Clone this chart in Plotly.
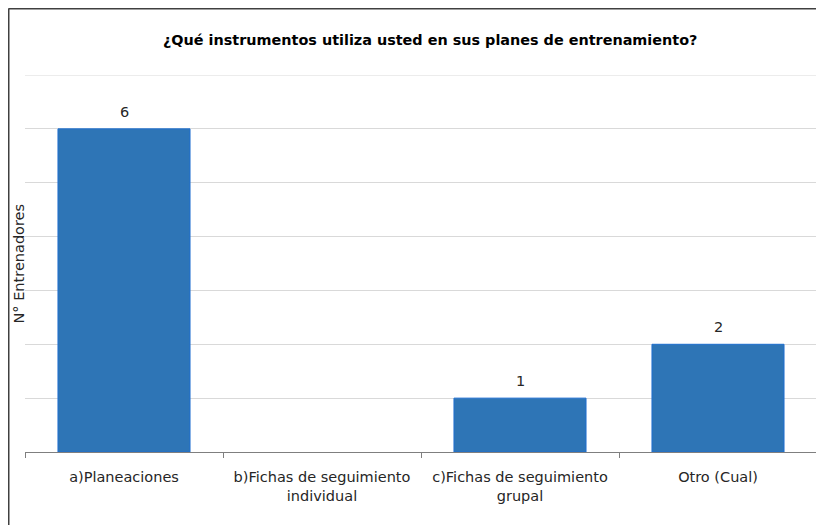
import plotly.graph_objects as go

categories = ["a)Planeaciones", "b)Fichas de seguimiento<br>individual",
              "c)Fichas de seguimiento<br>grupal", "Otro (Cual)"]
values = [6, 0, 1, 2]
y_max = 7
title_text = "¿Qué instrumentos utiliza usted en sus planes de entrenamiento?"
y_title = "N° Entrenadores"

FONT = "DejaVu Sans"
TXT = "#262626"
FS = 14.5
GRID = "#d9d9d9"

# page body margin of 8px offsets the figure; plot area in page: x 25..817, y 75..452
PW, PH = 792, 377
def px(xp):
    return (xp - 25) / PW
def py(yp):
    return (452 - yp) / PH

fig = go.Figure(go.Bar(
    x=categories, y=values,
    marker=dict(color="#2E75B6",
                line=dict(color="#1F6FD0", width=[1 if v else 0 for v in values])),
    cliponaxis=False,
))

annotations = [
    dict(text="<b>" + title_text + "</b>", xref="paper", yref="paper",
         x=px(430), y=py(40), xanchor="center", yanchor="middle",
         showarrow=False, font=dict(family=FONT, size=14.4, color="black")),
    dict(text=y_title, xref="paper", yref="paper",
         x=px(18), y=0.5, xanchor="center", yanchor="middle",
         textangle=-90, showarrow=False, font=dict(family=FONT, size=FS, color=TXT)),
]
for c, v in zip(categories, values):
    if v:
        annotations.append(dict(text=str(v), x=c, y=v, xref="x", yref="y",
                                yanchor="bottom", yshift=7, showarrow=False,
                                font=dict(family=FONT, size=FS, color=TXT)))

fig.update_layout(
    width=816, height=517,
    margin=dict(l=17, r=7, t=67, b=73),
    paper_bgcolor="white", plot_bgcolor="white",
    bargap=0.333,
    showlegend=False,
    font=dict(family=FONT, size=FS, color=TXT),
    annotations=annotations,
    shapes=[
        dict(type="line", xref="paper", yref="y", layer="below",
             x0=0, x1=1, y0=y_max, y1=y_max,
             line=dict(color=GRID, width=1)),
        dict(type="line", xref="paper", yref="paper",
             x0=px(8.5), x1=px(830),
             y0=py(8.75), y1=py(8.75),
             line=dict(color="#404040", width=1.5)),
        dict(type="line", xref="paper", yref="paper",
             x0=px(8.75), x1=px(8.75),
             y0=py(8.5), y1=py(530),
             line=dict(color="#404040", width=1.5)),
    ],
)

fig.update_xaxes(
    showline=True, linecolor="#7f7f7f", linewidth=1,
    ticks="outside", tickson="boundaries", ticklen=5, tickcolor="#7f7f7f",
    showgrid=False, tickfont=dict(family=FONT, size=FS, color=TXT),
    ticklabelstandoff=12,
)
fig.update_yaxes(
    range=[0, y_max], dtick=1, showticklabels=False, showgrid=True,
    gridcolor=GRID, gridwidth=1, zeroline=False, showline=False,
)

fig.write_html("out.html")
